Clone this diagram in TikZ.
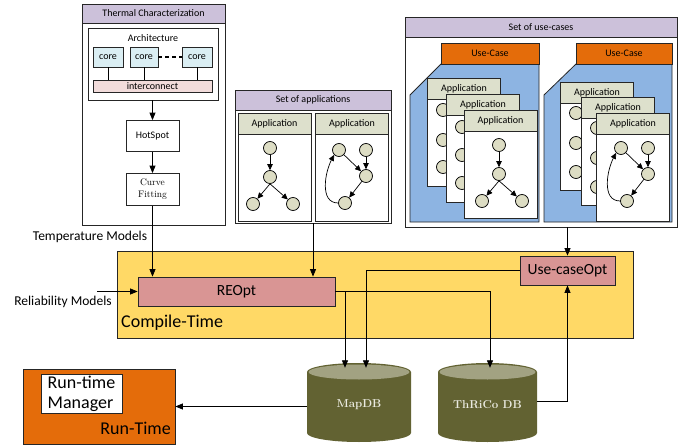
\documentclass[tikz,border=0pt]{standalone}
\usepackage{fontspec}
\setsansfont{Carlito}
\usetikzlibrary{arrows.meta}
\definecolor{titlepurple}{HTML}{CCC1DA}
\definecolor{appgreen}{HTML}{DDE0CC}
\definecolor{circfill}{HTML}{DDDDC4}
\definecolor{coreblue}{HTML}{DAEEF3}
\definecolor{icpink}{HTML}{F2DCDB}
\definecolor{ucblue}{HTML}{8DB4E2}
\definecolor{ucorange}{HTML}{E46C0A}
\definecolor{ctyellow}{HTML}{FFD966}
\definecolor{optred}{HTML}{D99594}
\definecolor{dbolive}{HTML}{626232}
\definecolor{dbtop}{HTML}{A2A282}
\definecolor{dbtext}{HTML}{EAEAE0}
\tikzset{
  every node/.style={font=\sffamily\fontsize{10}{12}\selectfont, inner sep=0pt},
  bx/.style={draw=black!85, line width=0.8pt},
  titlebar/.style={bx, fill=titlepurple, anchor=north},
  cardbody/.style={bx, fill=white, minimum width=73pt, minimum height=108pt},
  cardhead/.style={bx, fill=appgreen, minimum width=73pt, minimum height=21pt, anchor=north},
  gn/.style={circle, draw=black, fill=circfill, minimum size=13pt, line width=0.7pt},
  garr/.style={-{Triangle[length=6pt,width=5.5pt]}, line width=0.7pt},
  arr/.style={-{Triangle[length=7.5pt,width=6pt]}, line width=0.8pt},
  ln/.style={line width=0.8pt},
  dbtxt/.style={font=\rmfamily\bfseries\fontsize{11.5}{13}\selectfont, text=dbtext},
}
% graph type A: chain with fork
\newcommand{\grA}[3]{%
  \begin{scope}[shift={(#2,#3)}]
    \node[gn] (#1t) at (0,0) {};
    \node[gn] (#1m) at (0,29) {};
    \node[gn] (#1l) at (-17,56) {};
    \node[gn] (#1r) at (23,56) {};
    \draw[garr] (#1t) -- (#1m);
    \draw[garr] (#1m.south) -- (#1l);
    \draw[garr] (#1m.south) -- (#1r);
  \end{scope}}
% graph type B: cycle
\newcommand{\grB}[3]{%
  \begin{scope}[shift={(#2,#3)}]
    \node[gn] (#1a) at (0,0) {};
    \node[gn] (#1b) at (27,0) {};
    \node[gn] (#1c) at (27,26) {};
    \node[gn] (#1d) at (6,53) {};
    \draw[garr] (#1a) -- (#1c);
    \draw[garr] (#1b) -- (#1c);
    \draw[garr] (#1c) -- (#1d);
    \draw[garr] (#1d.west) .. controls +(-19,0) and +(-9,17) .. (#1a.south west);
  \end{scope}}
\begin{document}
\begin{tikzpicture}[x=1pt,y=-1pt]
\useasboundingbox (0,0) rectangle (697,447);

% ---------------- Thermal characterization ----------------
\node[bx, fill=white, minimum width=143pt, minimum height=221pt] (thermal) at (153.5,114.5) {};
\node[titlebar, minimum width=143pt, minimum height=19pt] (thermalT) at (thermal.north) {Thermal Characterization};
\node[bx, minimum width=130pt, minimum height=72pt] (arch) at (153,64) {};
\node (archL) at (153,38) {Architecture};
\node[bx, fill=coreblue, minimum width=30pt, minimum height=20pt] (core1) at (108,57) {core};
\node[bx, fill=coreblue, minimum width=28pt, minimum height=20pt] (core2) at (144,57) {core};
\node[bx, fill=coreblue, minimum width=30pt, minimum height=20pt] (core3) at (197,57) {core};
\node[bx, fill=icpink, minimum width=119pt, minimum height=12pt] (ic) at (152.5,86) {interconnect};
\draw[ln] (core1.south) -- (core1.south |- ic.north);
\draw[ln] (core2.south) -- (core2.south |- ic.north);
\draw[ln] (core3.south) -- (core3.south |- ic.north);
\draw[line width=1.6pt, dash pattern=on 4pt off 3pt] (core2.east) -- (core3.west);
\node[bx, fill=white, minimum width=53pt, minimum height=31pt] (hot) at (152.5,136) {HotSpot};
\node[bx, fill=white, minimum width=53pt, minimum height=32pt, align=center,
      font=\rmfamily\fontsize{9.5}{12}\selectfont] (curve) at (152.5,189.5) {Curve\\Fitting};
\draw[arr] (hot.north |- arch.south) -- (hot.north);
\draw[arr] (hot.south) -- (curve.north);

% ---------------- Set of applications ----------------
\node[bx, fill=white, minimum width=156pt, minimum height=133pt] (apps) at (313,156.5) {};
\node[titlebar, minimum width=156pt, minimum height=20pt] (appsT) at (apps.north) {Set of applications};
\node[cardbody] (app1) at (274.5,167) {};
\node[cardhead] (app1h) at (app1.north) {Application};
\grA{pa}{270}{148}
\node[cardbody] (app2) at (352,167) {};
\node[cardhead] (app2h) at (app2.north) {Application};
\grB{pb}{339}{150}

% ---------------- Set of use-cases ----------------
\node[bx, fill=white, minimum width=272pt, minimum height=210pt] (ucs) at (541,122) {};
\node[titlebar, minimum width=272pt, minimum height=20pt] (ucsT) at (ucs.north) {Set of use-cases};
% use-case 1
\draw[bx, fill=ucblue] (441,64) -- (539,64) -- (539,222) -- (410,222) -- (410,95) -- cycle;
\node[bx, fill=ucorange, minimum width=98pt, minimum height=21pt] (uc1h) at (490,53.5) {Use-Case};
\node[cardbody] (u1c1) at (464,132.5) {};
\node[cardhead] (u1c1h) at (u1c1.north) {Application};
\node[gn] (u1p1) at (443,110) {};
\node[gn] (u1p2) at (443,140) {};
\node[gn] (u1p3) at (443,167) {};
\node[cardbody] (u1c2) at (483,148.5) {};
\node[cardhead] (u1c2h) at (u1c2.north) {Application};
\node[gn] (u1q1) at (462,127) {};
\node[gn] (u1q2) at (462,155) {};
\node[gn] (u1q3) at (462,183) {};
\node[cardbody] (u1c3) at (500.5,164) {};
\node[cardhead] (u1c3h) at (u1c3.north) {Application};
\grA{ua}{499}{145}
% use-case 2
\draw[bx, fill=ucblue] (576,64) -- (672,64) -- (672,222) -- (544,222) -- (544,95) -- cycle;
\node[bx, fill=ucorange, minimum width=96pt, minimum height=21pt] (uc2h) at (624,53.5) {Use-Case};
\node[cardbody] (u2c1) at (597,136) {};
\node[cardhead] (u2c1h) at (u2c1.north) {Application};
\node[gn] (u2p1) at (576,113) {};
\node[gn] (u2p2) at (576,143) {};
\node[gn] (u2p3) at (576,172) {};
\node[cardbody] (u2c2) at (618,151) {};
\node[cardhead] (u2c2h) at (u2c2.north) {Application};
\node[gn] (u2q1) at (597,128) {};
\node[gn] (u2q2) at (597,158) {};
\node[gn] (u2q3) at (597,187) {};
\node[cardbody] (u2c3) at (633,167.5) {};
\node[cardhead] (u2c3h) at (u2c3.north) {Application};
\grB{ub}{621}{148}

% ---------------- Compile-Time ----------------
\node[bx, fill=ctyellow, minimum width=516pt, minimum height=87pt] (ct) at (375,294.5) {};
\node[anchor=west, font=\sffamily\fontsize{18}{20}\selectfont] (ctL) at (121,323) {Compile-Time};
\node[bx, fill=optred, minimum width=197pt, minimum height=29pt,
      font=\sffamily\fontsize{15.5}{18}\selectfont] (reopt) at (236.5,291.5) {REOpt};
\node[bx, fill=optred, minimum width=95pt, minimum height=29pt,
      font=\sffamily\fontsize{15.5}{18}\selectfont] (ucopt) at (567.5,270.5) {Use-caseOpt};

% ---------------- Databases ----------------
\fill[dbolive] (307,372) -- (307,433) arc[start angle=180, end angle=360, x radius=52pt, y radius=9pt]
  -- (411,372) arc[start angle=0, end angle=180, x radius=52pt, y radius=9pt] -- cycle;
\fill[dbtop] (359,372) ellipse [x radius=50.5pt, y radius=7.5pt];
\fill[dbolive] (487.5,372) ++(-49.5,0) -- ++(0,61) arc[start angle=180, end angle=360, x radius=49.5pt, y radius=9pt]
  -- ++(0,-61) arc[start angle=0, end angle=180, x radius=49.5pt, y radius=9pt] -- cycle;
\fill[dbtop] (487.5,372) ellipse [x radius=48pt, y radius=7.5pt];
\node[dbtxt, minimum width=104pt, minimum height=74pt] (mapdb) at (359,405) {MapDB};
\node[dbtxt, minimum width=99pt, minimum height=74pt] (thrico) at (487.5,405) {ThRiCo DB};

% ---------------- Run-Time ----------------
\node[bx, fill=ucorange, minimum width=152pt, minimum height=75pt] (rt) at (99,406.5) {};
\node[bx, fill=white, minimum width=81pt, minimum height=39pt, align=left,
      font=\sffamily\fontsize{18}{20}\selectfont] (rtm) at (81.5,393.5) {Run-time\\Manager};
\node[anchor=east, font=\sffamily\fontsize{18}{20}\selectfont] (rtL) at (171,428) {Run-Time};

% ---------------- Connectors ----------------
\node[font=\sffamily\fontsize{13.5}{16}\selectfont] (tm) at (90,237) {Temperature Models};
\node[font=\sffamily\fontsize{13.5}{16}\selectfont] (rm) at (63,302) {Reliability Models};
\coordinate (relS) at (97,291.5);
\draw[arr] (curve.south) -- (curve.south |- reopt.north);
\draw[arr] (apps.south) -- (apps.south |- reopt.north);
\draw[arr] (ucs.south -| ucopt.north) -- (ucopt.north);
\draw[arr] (relS) -- (reopt.west);
\draw[arr] (reopt.east) -| ([xshift=-14pt]mapdb.north);
\draw[arr] (ucopt.west) -| ([xshift=7pt]mapdb.north);
\draw[arr] (reopt.east) -| ([xshift=2.5pt]thrico.north);
\draw[arr] ([yshift=4pt]thrico.east) -| (ucopt.south);
\draw[arr] (rt.east -| mapdb.west) -- (rt.east);
\end{tikzpicture}
\end{document}
